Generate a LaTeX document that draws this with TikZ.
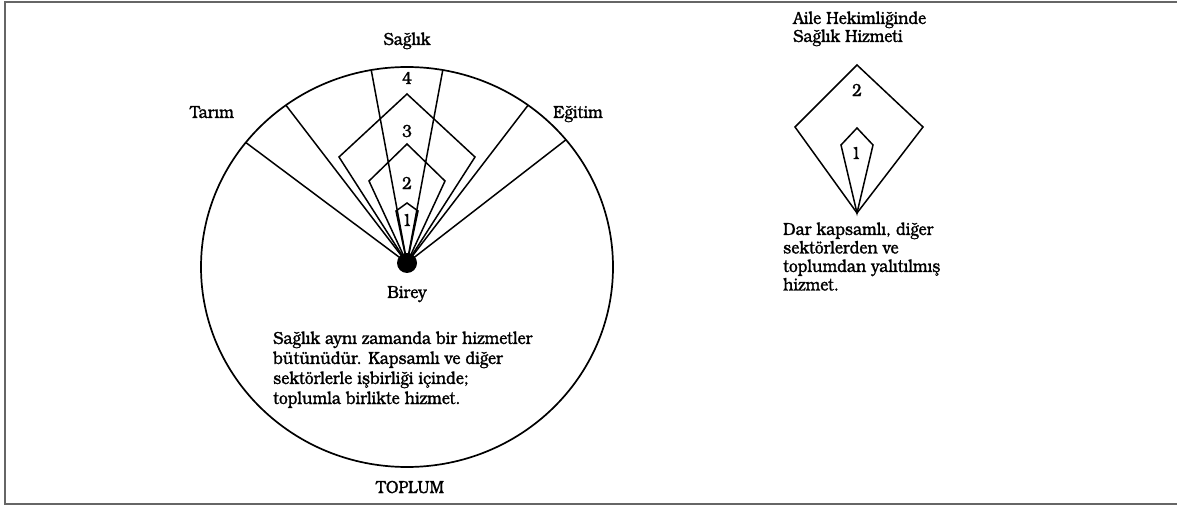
\documentclass[tikz,border=0pt]{standalone}
\usepackage{fontspec}
\setmainfont[FakeStretch=0.89, FakeBold=1.2]{TeX Gyre Bonum}
\begin{document}
\begin{tikzpicture}[x=1pt,y=1pt,
  line/.style={line width=1.5pt, black},
  lbl/.style={font=\fontsize{17.5}{20}\selectfont, inner sep=0pt},
  frame/.style={line width=1.6pt, black!60}]
\useasboundingbox (0,0) rectangle (1177,506);
% open frame: top, left and bottom rules
\draw[frame] (1177,504) -- (5,504) -- (5,2) -- (1177,2);

% ---------------- left figure: society circle ----------------
\coordinate (C) at (407,239);
\draw[line, line width=1.7pt] (C) ellipse [x radius=206, y radius=200];
\node[circle, fill=black, inner sep=0pt, minimum size=20pt] (birey) at (407,243) {};

% sector boundaries on the rim
\path (C) ++(141.5:206 and 200) coordinate (e1);
\path (C) ++(126:206 and 200)   coordinate (e2);
\path (C) ++(100:206 and 200)   coordinate (e3);
\path (C) ++(80:206 and 200)    coordinate (e4);
\path (C) ++(54:206 and 200)    coordinate (e5);
\path (C) ++(39.5:206 and 200)  coordinate (e6);
\foreach \e in {e1,e2,e3,e4,e5,e6}
  \draw[line] (birey.center) -- (\e);

% nested service levels
\draw[line] (birey.center) -- (339,349) -- (407,412) -- (475,349) -- cycle;
\draw[line] (birey.center) -- (369,325) -- (407,362) -- (445,325) -- cycle;
\draw[line] (birey.center) -- (396,295) -- (407,303) -- (418,295) -- cycle;

\node[lbl] (n4) at (407,428) {4};
\node[lbl] (n3) at (407,375) {3};
\node[lbl] (n2) at (407,323) {2};
\node[lbl] (n1) at (407,286) {1};

\node[lbl, anchor=base] (saglik) at (407,461) {Sağlık};
\node[lbl, anchor=base] (tarim)  at (212,388) {Tarım};
\node[lbl, anchor=base] (egitim) at (578,388) {Eğitim};
\node[lbl, anchor=base] (birey-l) at (407,208) {Birey};

\node[lbl, anchor=base west] (d1) at (273,162) {Sağlık aynı zamanda bir hizmetler};
\node[lbl, anchor=base west] (d2) at (273,142) {bütünüdür. Kapsamlı ve diğer};
\node[lbl, anchor=base west] (d3) at (273,122) {sektörlerle işbirliği içinde;};
\node[lbl, anchor=base west] (d4) at (273,102) {toplumla birlikte hizmet.};

\node[lbl, anchor=base] (toplum) at (410,13) {TOPLUM};

% ---------------- right figure: family medicine ----------------
\node[lbl, anchor=base west] (t1) at (793,482) {Aile Hekimliğinde};
\node[lbl, anchor=base west] (t2) at (793,464) {Sağlık Hizmeti};

\coordinate (R) at (857,293);
\draw[line] (R) -- (795,379) -- (857,441) -- (923,379) -- cycle;
\draw[line] (R) -- (841,361) -- (857,378) -- (873,361) -- cycle;
\node[lbl] (m2) at (857,416) {2};
\node[lbl] (m1) at (856,353) {1};

\node[lbl, anchor=base west] (r1) at (783,271) {Dar kapsamlı, diğer};
\node[lbl, anchor=base west] (r2) at (783,252.5) {sektörlerden ve};
\node[lbl, anchor=base west] (r3) at (783,234) {toplumdan yalıtılmış};
\node[lbl, anchor=base west] (r4) at (783,215.5) {hizmet.};
\end{tikzpicture}
\end{document}
